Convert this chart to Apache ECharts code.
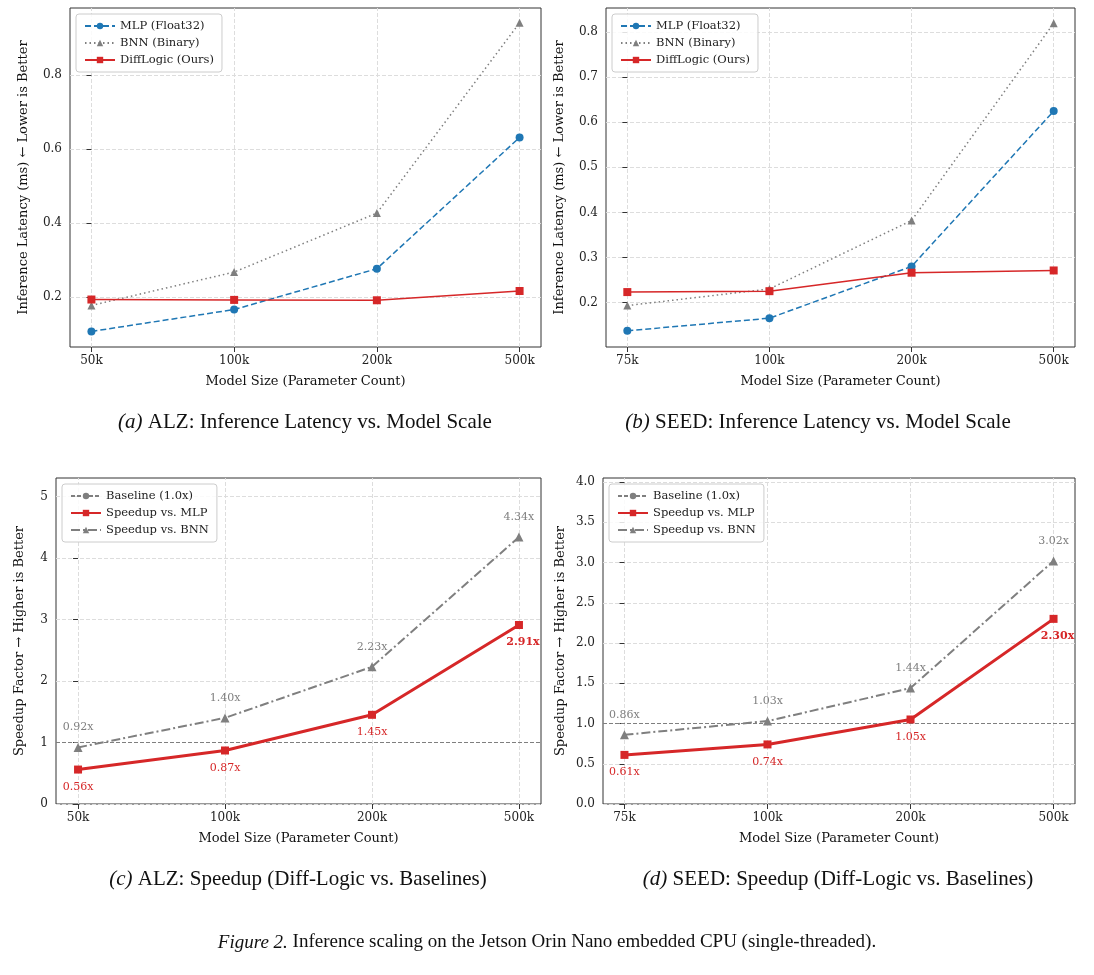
<!DOCTYPE html>
<html><head><meta charset="utf-8">
<script src="https://cdn.jsdelivr.net/npm/echarts@6/dist/echarts.min.js"></script>
<style>html,body{margin:0;background:#fff}#c{width:1094px;height:975px}</style>
</head><body><div id="c"></div>
<script>
// model sizes
var sizesALZ = ['50k', '100k', '200k', '500k'];
var sizesSEED = ['75k', '100k', '200k', '500k'];
// latency (ms)
var alzMLP = [0.108, 0.167, 0.277, 0.631];
var alzBNN = [0.178, 0.268, 0.427, 0.940];
var alzDiff = [0.194, 0.193, 0.192, 0.217];
var seedMLP = [0.137, 0.165, 0.280, 0.625];
var seedBNN = [0.193, 0.230, 0.382, 0.820];
var seedDiff = [0.223, 0.225, 0.266, 0.271];
// speedup factor
var alzSpMLP = [0.56, 0.87, 1.45, 2.91];
var alzSpBNN = [0.92, 1.40, 2.23, 4.34];
var seedSpMLP = [0.61, 0.74, 1.05, 2.30];
var seedSpBNN = [0.86, 1.03, 1.44, 3.02];
var baseline = 1.0;
// y tick labels
var ticksA = [0.2, 0.4, 0.6, 0.8];
var ticksB = [0.2, 0.3, 0.4, 0.5, 0.6, 0.7, 0.8];
var ticksC = [0, 1, 2, 3, 4, 5];
var ticksD = [0, 0.5, 1.0, 1.5, 2.0, 2.5, 3.0, 3.5, 4.0];

var BLUE = '#1f77b4', GREY = '#7f7f7f', RED = '#d62728';
var FONT = 'DejaVu Serif';
var idx = [0, 1, 2, 3];
function pts(arr) { return arr.map(function (v, i) { return [i, v]; }); }

var grids = [
  { left: 70, right: 553, top: 8, bottom: 628 },
  { left: 606, right: 19, top: 8, bottom: 628 },
  { left: 56, right: 553, top: 478, bottom: 171 },
  { left: 603, right: 19, top: 478, bottom: 171 }
];
grids.forEach(function (g) { g.show = true; g.borderColor = '#333'; g.borderWidth = 1; g.backgroundColor = 'transparent'; });

function xAx(i, labels) {
  return {
    type: 'value', gridIndex: i, min: -0.15, max: 3.15,
    name: 'Model Size (Parameter Count)', nameLocation: 'middle', nameGap: 28,
    nameTextStyle: { fontFamily: FONT, fontSize: 13, color: '#111' },
    axisLine: { show: false },
    axisTick: { show: true, customValues: idx, lineStyle: { color: '#333' } },
    axisLabel: { customValues: idx, fontFamily: FONT, fontSize: 12, color: '#222',
      formatter: function (v) { return labels[Math.round(v)]; } },
    splitLine: { show: false }
  };
}
function yAx(i, name, min, max, ticks, gap, fmt) {
  return {
    type: 'value', gridIndex: i, min: min, max: max,
    name: name, nameLocation: 'middle', nameGap: gap,
    nameTextStyle: { fontFamily: FONT, fontSize: 13, color: '#111' },
    axisLine: { show: false },
    axisTick: { show: true, customValues: ticks, lineStyle: { color: '#333' } },
    axisLabel: { customValues: ticks, fontFamily: FONT, fontSize: 12, color: '#222', formatter: fmt },
    splitLine: { show: false }
  };
}
// dashed grid lines at ticks
function grid(i, yt) {
  var d = idx.map(function (k) { return { xAxis: k }; }).concat(yt.map(function (v) { return { yAxis: v }; }));
  return { type: 'line', xAxisIndex: i, yAxisIndex: i, data: [], silent: true, z: 0,
    markLine: { symbol: 'none', silent: true, label: { show: false }, z: 0,
      lineStyle: { color: '#ddd', type: 'dashed', width: 1 }, data: d } };
}
var sym = { borderWidth: 0 };
function latSeries(i, mlp, bnn, diff) {
  return [
    { name: 'MLP (Float32)', type: 'line', xAxisIndex: i, yAxisIndex: i, data: pts(mlp),
      symbol: 'circle', symbolSize: 8, color: BLUE, itemStyle: sym, lineStyle: { type: [6, 3], width: 1.5 } },
    { name: 'BNN (Binary)', type: 'line', xAxisIndex: i, yAxisIndex: i, data: pts(bnn),
      symbol: 'triangle', symbolSize: 8, color: GREY, itemStyle: sym, lineStyle: { type: [1.5, 3], width: 1.5 } },
    { name: 'DiffLogic (Ours)', type: 'line', xAxisIndex: i, yAxisIndex: i, data: pts(diff),
      symbol: 'rect', symbolSize: 8, color: RED, itemStyle: sym, lineStyle: { width: 1.5 } }
  ];
}
function spSeries(i, mlp, bnn) {
  var lab = function (v) { return v.value[1].toFixed(2) + 'x'; };
  var mlpData = pts(mlp).map(function (p, k) {
    var d = { value: p };
    if (k === 3) d.label = { fontWeight: 'bold', offset: [4, 0] };
    return d;
  });
  return [
    { name: 'Baseline (1.0x)', type: 'line', xAxisIndex: i, yAxisIndex: i, data: [],
      color: GREY, symbol: 'none', lineStyle: { type: [4, 2], width: 1 },
      markLine: { symbol: 'none', silent: true, label: { show: false },
        lineStyle: { color: GREY, type: [4, 2], width: 1 }, data: [{ yAxis: baseline }] } },
    { name: 'Speedup vs. MLP', type: 'line', xAxisIndex: i, yAxisIndex: i, data: mlpData,
      symbol: 'rect', symbolSize: 8, color: RED, itemStyle: sym, lineStyle: { width: 3 }, z: 5,
      label: { show: true, position: 'bottom', distance: 8, color: RED, fontFamily: FONT, fontSize: 11, formatter: lab } },
    { name: 'Speedup vs. BNN', type: 'line', xAxisIndex: i, yAxisIndex: i, data: pts(bnn),
      symbol: 'triangle', symbolSize: 9, color: GREY, itemStyle: sym, lineStyle: { type: [9, 3, 2, 3], width: 2 },
      label: { show: true, position: 'top', distance: 10, color: GREY, fontFamily: FONT, fontSize: 11, formatter: lab } }
  ];
}
function legend(left, top, names) {
  return { left: left, top: top, orient: 'vertical', data: names, itemWidth: 30, itemHeight: 8, itemGap: 5,
    padding: [6, 8], borderColor: '#ccc', borderWidth: 1, borderRadius: 3, backgroundColor: 'rgba(255,255,255,0.85)',
    textStyle: { fontFamily: FONT, fontSize: 11.5, color: '#222' } };
}
var latNames = ['MLP (Float32)', 'BNN (Binary)', 'DiffLogic (Ours)'];
var spNames = ['Baseline (1.0x)', 'Speedup vs. MLP', 'Speedup vs. BNN'];
var f1 = function (v) { return v.toFixed(1); };
var f0 = function (v) { return String(v); };

function cap(x, y, it, rest, size) {
  return { type: 'text', x: x, y: y, style: { text: '{i|' + it + '} ' + rest, align: 'center',
    font: size + 'px "Liberation Serif"', fill: '#111',
    rich: { i: { fontStyle: 'italic', fontSize: size, fontFamily: 'Liberation Serif' } } } };
}

var option = {
  animation: false,
  grid: grids,
  xAxis: [xAx(0, sizesALZ), xAx(1, sizesSEED), xAx(2, sizesALZ), xAx(3, sizesSEED)],
  yAxis: [
    yAx(0, 'Inference Latency (ms) \u2190 Lower is Better', 0.066, 0.98, ticksA, 40, f1),
    yAx(1, 'Inference Latency (ms) \u2190 Lower is Better', 0.101, 0.854, ticksB, 40, f1),
    yAx(2, 'Speedup Factor \u2192 Higher is Better', 0, 5.3, ticksC, 30, f0),
    yAx(3, 'Speedup Factor \u2192 Higher is Better', 0, 4.05, ticksD, 36, f1)
  ],
  legend: [
    legend(76, 14, latNames), legend(612, 14, latNames),
    legend(62, 484, spNames), legend(609, 484, spNames)
  ],
  series: [].concat(
    [grid(0, ticksA), grid(1, ticksB), grid(2, ticksC), grid(3, ticksD)],
    latSeries(0, alzMLP, alzBNN, alzDiff),
    latSeries(1, seedMLP, seedBNN, seedDiff),
    spSeries(2, alzSpMLP, alzSpBNN),
    spSeries(3, seedSpMLP, seedSpBNN)
  ),
  graphic: [
    cap(305, 412, '(a)', 'ALZ: Inference Latency vs. Model Scale', 21),
    cap(818, 412, '(b)', 'SEED: Inference Latency vs. Model Scale', 21),
    cap(298, 869, '(c)', 'ALZ: Speedup (Diff-Logic vs. Baselines)', 21),
    cap(838, 869, '(d)', 'SEED: Speedup (Diff-Logic vs. Baselines)', 21),
    cap(547, 933, 'Figure 2.', 'Inference scaling on the Jetson Orin Nano embedded CPU (single-threaded).', 19)
  ]
};
echarts.init(document.getElementById('c')).setOption(option);
</script></body></html>
